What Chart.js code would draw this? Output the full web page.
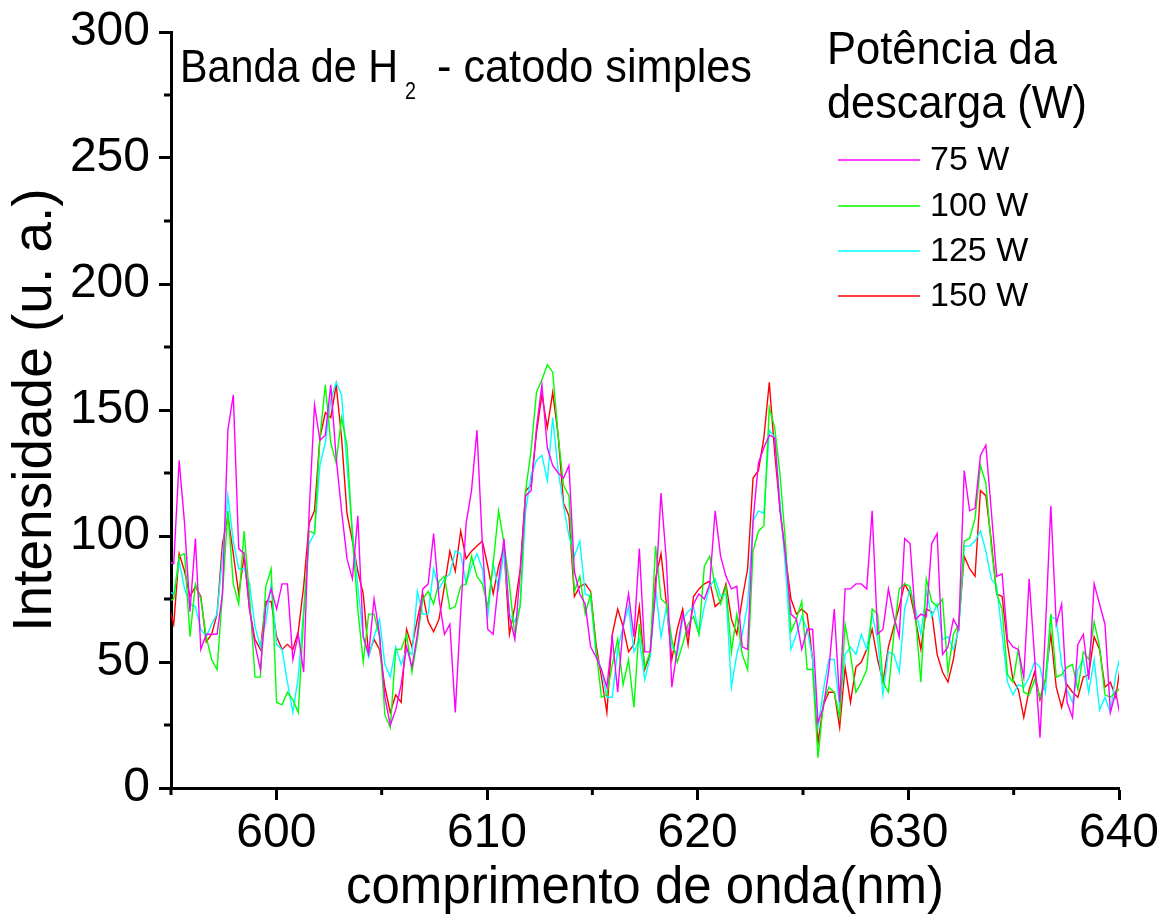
<!DOCTYPE html>
<html>
<head>
<meta charset="utf-8">
<script src="https://cdn.jsdelivr.net/npm/chart.js@4.4.1/dist/chart.umd.min.js"></script>
<style>
    html, body { margin: 0; padding: 0; background: #fff; }
</style>
</head>
<body>
<canvas id="chart" width="1176" height="920"></canvas>
<script>
const FONT = "'Liberation Sans', Arial, Helvetica, sans-serif";

// Spectrometer sampling: first point just left of 595 nm, about 0.257 nm apart.
const WAVE_START = 594.873;
const WAVE_STEP = 0.257;

/**
 * Intensities (u. a.), one value per sample.
 */
const power75 = [
    90, 89, 130, 105, 70, 99, 55, 61, 61, 61,
    77, 142, 156, 95, 93, 71, 57, 47, 72, 79,
    71, 81, 81, 51, 61, 46, 109, 152, 138, 140,
    160, 131, 110, 91, 83, 108, 60, 53, 75, 61,
    36, 25, 31, 41, 56, 48, 61, 79, 81, 101,
    75, 61, 65, 30, 70, 105, 118, 142, 97, 63,
    61, 82, 99, 68, 59, 86, 116, 118, 143, 160,
    135, 128, 125, 123, 128, 86, 77, 73, 56, 52,
    47, 40, 60, 38, 64, 77, 60, 95, 54, 54,
    78, 117, 90, 40, 55, 69, 61, 73, 77, 75,
    81, 110, 92, 84, 79, 80, 56, 55, 106, 129,
    135, 140, 139, 110, 92, 69, 67, 55, 63, 63,
    26, 32, 47, 71, 34, 79, 79, 81, 81, 79,
    110, 61, 63, 79, 68, 60, 99, 97, 67, 69,
    68, 97, 101, 53, 56, 67, 63, 126, 110, 111,
    132, 136, 110, 84, 85, 59, 56, 55, 44, 83,
    52, 20, 63, 112, 65, 73, 34, 28, 57, 61,
    43, 81, 73, 65, 30, 38, 26
];

const power100 = [
    74, 75, 92, 93, 60, 81, 75, 60, 51, 47,
    77, 110, 81, 73, 102, 76, 44, 44, 80, 87,
    34, 33, 38, 35, 30, 68, 102, 101, 139, 160,
    137, 129, 147, 136, 100, 71, 50, 69, 69, 60,
    29, 24, 55, 55, 61, 46, 59, 75, 78, 73,
    82, 84, 71, 72, 80, 81, 92, 84, 81, 72,
    89, 110, 97, 81, 60, 73, 118, 134, 157, 162,
    168, 165, 140, 120, 116, 78, 84, 69, 77, 55,
    36, 37, 49, 59, 41, 51, 32, 65, 48, 54,
    96, 75, 73, 59, 50, 57, 65, 68, 61, 88,
    92, 80, 73, 80, 54, 69, 53, 47, 94, 102,
    104, 151, 143, 124, 97, 62, 67, 74, 47, 47,
    12, 34, 40, 38, 28, 65, 53, 38, 42, 47,
    71, 69, 42, 38, 61, 79, 81, 80, 68, 42,
    83, 74, 72, 75, 46, 61, 65, 98, 99, 107,
    128, 121, 96, 77, 71, 45, 42, 55, 38, 37,
    43, 36, 43, 69, 44, 45, 48, 49, 39, 54,
    51, 66, 56, 37, 36, 38, 40
];

const power125 = [
    78, 77, 90, 79, 73, 72, 63, 60, 65, 69,
    92, 116, 98, 87, 87, 81, 64, 56, 66, 81,
    57, 55, 42, 30, 44, 71, 97, 101, 128, 137,
    154, 161, 156, 128, 102, 80, 60, 52, 60, 67,
    49, 44, 56, 49, 55, 53, 78, 69, 69, 87,
    79, 83, 85, 94, 93, 81, 88, 93, 87, 68,
    89, 79, 94, 69, 66, 72, 110, 124, 130, 132,
    122, 147, 126, 112, 100, 92, 98, 77, 76, 53,
    47, 36, 36, 55, 64, 72, 54, 59, 43, 52,
    79, 60, 72, 56, 53, 67, 70, 72, 61, 72,
    80, 83, 76, 77, 40, 53, 61, 73, 106, 110,
    109, 142, 139, 113, 87, 55, 61, 68, 63, 51,
    24, 39, 51, 51, 32, 53, 56, 53, 61, 55,
    69, 59, 37, 54, 53, 46, 71, 79, 71, 61,
    78, 68, 73, 59, 60, 55, 63, 96, 96, 98,
    102, 94, 83, 80, 61, 42, 37, 41, 40, 44,
    50, 48, 38, 68, 67, 49, 39, 34, 47, 51,
    38, 51, 31, 36, 30, 45, 54
];

const power150 = [
    73, 65, 93, 86, 76, 80, 76, 58, 61, 69,
    97, 108, 93, 77, 92, 71, 59, 55, 74, 74,
    60, 55, 57, 55, 62, 80, 105, 110, 139, 149,
    147, 160, 139, 109, 98, 86, 77, 53, 59, 55,
    40, 30, 37, 34, 63, 56, 67, 77, 66, 62,
    67, 80, 94, 86, 102, 91, 94, 96, 98, 88,
    77, 88, 95, 61, 72, 87, 118, 120, 141, 156,
    143, 157, 140, 113, 108, 76, 80, 81, 78, 57,
    44, 30, 61, 71, 64, 54, 57, 72, 47, 53,
    83, 93, 73, 51, 63, 71, 57, 76, 79, 81,
    82, 72, 74, 81, 67, 61, 75, 87, 123, 126,
    139, 161, 133, 110, 92, 75, 69, 71, 69, 51,
    18, 33, 38, 38, 24, 48, 34, 48, 50, 55,
    63, 51, 42, 56, 64, 72, 81, 77, 67, 55,
    71, 70, 53, 46, 42, 51, 65, 92, 87, 84,
    118, 116, 98, 77, 76, 57, 43, 39, 28, 39,
    46, 35, 43, 61, 40, 32, 41, 38, 36, 44,
    45, 60, 55, 40, 42, 36, 51
];

const seriesLabels = ['75 W', '100 W', '125 W', '150 W'];
const seriesColors = ['#ff00ff', '#00ff00', '#00ffff', '#ff0000'];

const xTicks = [600, 610, 620, 630, 640];
const xMinorTicks = [595, 605, 615, 625, 635];
const yMinorTicks = [25, 75, 125, 175, 225, 275];

/**
 * Turn a list of intensities into {x, y} points on the wavelength grid.
 */
function toPoints(values) {
    return values.map((v, i) => ({x: WAVE_START + i * WAVE_STEP, y: v}));
}

/**
 * Draw a text squeezed or stretched horizontally so that it spans the given width.
 */
function fitText(ctx, text, x, y, size, width) {
    ctx.font = `${size}px ${FONT}`;
    const natural = ctx.measureText(text).width;
    ctx.save();
    ctx.translate(x, y);
    ctx.scale(width / natural, 1);
    ctx.fillText(text, 0, 0);
    ctx.restore();
}

/**
 * Short minor ticks between the labelled ones.
 */
const minorTicks = {
    id: 'minorTicks',
    afterDraw(chart) {
        const {ctx, chartArea, scales} = chart;
        ctx.save();
        ctx.strokeStyle = '#000';
        ctx.lineWidth = 3;
        ctx.beginPath();
        xMinorTicks.forEach(v => {
            const px = scales.x.getPixelForValue(v);
            ctx.moveTo(px, chartArea.bottom);
            ctx.lineTo(px, chartArea.bottom + 7);
        });
        yMinorTicks.forEach(v => {
            const py = scales.y.getPixelForValue(v);
            ctx.moveTo(chartArea.left, py);
            ctx.lineTo(chartArea.left - 7, py);
        });
        ctx.stroke();
        ctx.restore();
    }
};

/**
 * The note in the top left corner and the legend on the right.
 */
const annotations = {
    id: 'annotations',
    afterDraw(chart) {
        const ctx = chart.ctx;
        ctx.save();
        ctx.fillStyle = '#000';
        ctx.textAlign = 'left';
        ctx.textBaseline = 'alphabetic';

        // Banda de H2 - catodo simples
        fitText(ctx, 'Banda de H', 180, 82, 46, 218);
        fitText(ctx, '2', 405, 99, 24, 11);
        fitText(ctx, '- catodo simples', 437, 82, 46, 315);

        // Legend title
        fitText(ctx, 'Potência da', 827, 64, 46, 230);
        fitText(ctx, 'descarga (W)', 827, 118, 46, 260);

        // Legend entries
        const rows = [160, 206, 251, 296];
        chart.data.datasets.forEach((ds, i) => {
            ctx.strokeStyle = ds.borderColor;
            ctx.lineWidth = 1.4;
            ctx.beginPath();
            ctx.moveTo(838, rows[i]);
            ctx.lineTo(920, rows[i]);
            ctx.stroke();
            ctx.fillStyle = '#000';
            ctx.font = `34px ${FONT}`;
            ctx.textBaseline = 'middle';
            ctx.fillText(ds.label, 930, rows[i] + 1);
        });
        ctx.restore();
    }
};

const datasets = [power75, power100, power125, power150].map((values, i) => ({
    label: seriesLabels[i],
    data: toPoints(values),
    borderColor: seriesColors[i],
    borderWidth: 1.4,
    pointRadius: 0,
    fill: false,
    tension: 0
}));

new Chart(document.getElementById('chart').getContext('2d'), {
    type: 'line',
    data: {datasets: datasets},
    options: {
        responsive: false,
        animation: false,
        layout: {padding: {top: 32, right: 57, left: 0, bottom: 0}},
        plugins: {
            legend: {display: false},
            tooltip: {enabled: false}
        },
        scales: {
            x: {
                type: 'linear',
                min: 595,
                max: 640,
                afterFit(scale) {
                    scale.height = 132;
                    scale.paddingLeft = 0;
                    scale.paddingRight = 0;
                },
                afterBuildTicks(scale) { scale.ticks = xTicks.map(v => ({value: v})); },
                border: {display: true, color: '#000', width: 3},
                grid: {drawOnChartArea: false, drawTicks: true, tickLength: 12, tickWidth: 3, color: '#000'},
                ticks: {color: '#000', font: {family: FONT, size: 48}, padding: 5, maxRotation: 0, autoSkip: false},
                title: {
                    display: true,
                    text: 'comprimento de onda(nm)',
                    color: '#000',
                    font: {family: FONT, size: 51},
                    padding: {top: 2, bottom: 0}
                }
            },
            y: {
                min: 0,
                max: 300,
                afterFit(scale) {
                    scale.width = 171;
                    scale.paddingTop = 0;
                    scale.paddingBottom = 0;
                },
                border: {display: true, color: '#000', width: 3},
                grid: {drawOnChartArea: false, drawTicks: true, tickLength: 12, tickWidth: 3, color: '#000'},
                ticks: {stepSize: 50, color: '#000', font: {family: FONT, size: 48}, padding: 9},
                title: {
                    display: true,
                    text: 'Intensidade (u. a.)',
                    color: '#000',
                    font: {family: FONT, size: 55},
                    padding: {top: 3, bottom: 0}
                }
            }
        }
    },
    plugins: [minorTicks, annotations]
});
</script>
</body>
</html>
